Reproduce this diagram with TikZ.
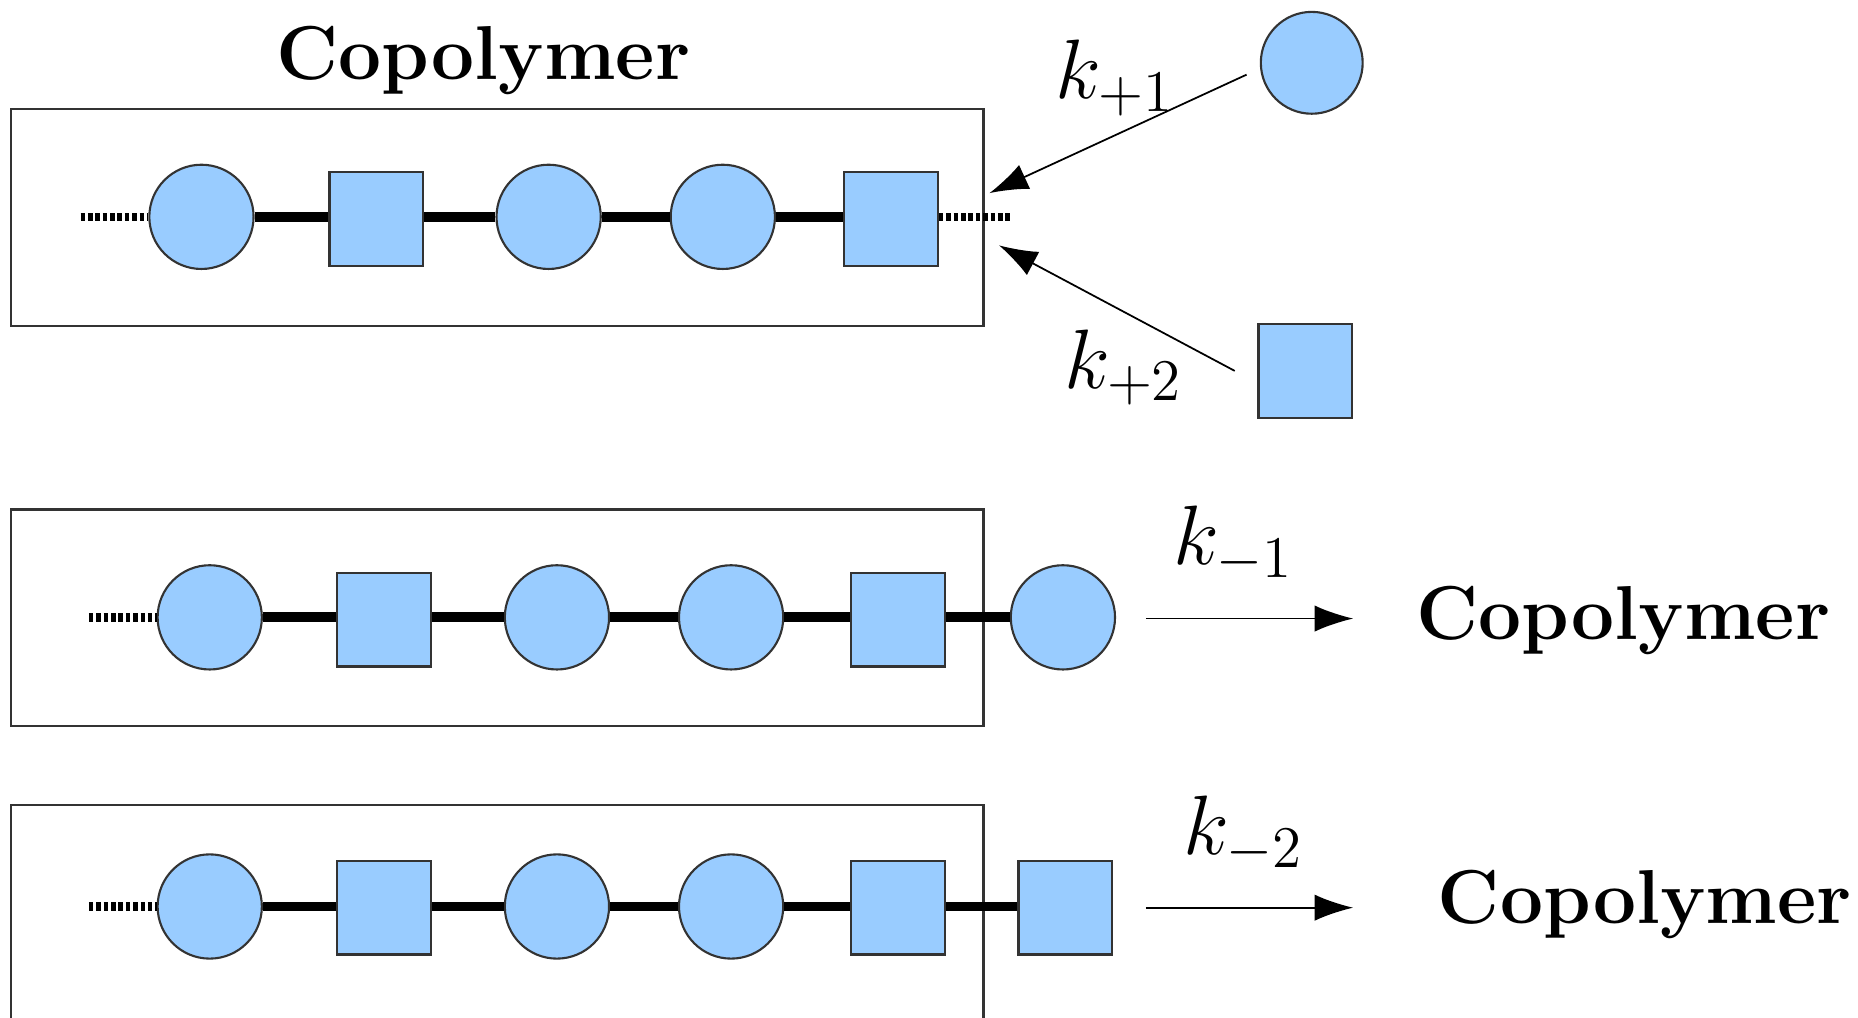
\RequirePackage{fix-cm}
\documentclass[tikz,border=0pt]{standalone}
\usepackage{fontspec}
\usetikzlibrary{arrows.meta}
\definecolor{mono}{HTML}{99CCFF}
\definecolor{edge}{HTML}{333333}
\tikzset{
  mcirc/.style={circle, draw=edge, fill=mono, line width=0.6pt, minimum size=1.043cm, inner sep=0pt},
  msq/.style={rectangle, draw=edge, fill=mono, line width=0.6pt, minimum size=0.936cm, inner sep=0pt},
  bond/.style={line width=2.8pt, black},
  dotbond/.style={line width=2.4pt, black, dash pattern=on 1.3pt off 0.8pt},
  frame/.style={draw=black!80, line width=0.6pt},
  rate/.style={line width=0.5pt, -{Latex[length=11pt,width=7.5pt]}},
  bigtxt/.style={font=\fontsize{21.75}{26}\selectfont\bfseries, inner sep=0pt},
  ktxt/.style={font=\fontsize{24}{29}\selectfont, inner sep=0pt}
}
\begin{document}
\begin{tikzpicture}[x=0.01185cm, y=-0.01185cm]
\useasboundingbox (0,0) rectangle (1568,859);

% title
\node[bigtxt, anchor=base] (title) at (408,67) {Copolymer};

% ---------- row 1 ----------
\draw[frame] (9,92) rectangle (830,275);
\node[mcirc] (a1) at (170,183) {};
\node[msq]   (a2) at (317.5,185) {};
\node[mcirc] (a3) at (463,183) {};
\node[mcirc] (a4) at (610,183) {};
\node[msq]   (a5) at (752,185) {};
\coordinate (a0) at (68,183);
\coordinate (a6) at (853,183);
\draw[dotbond] (a0) -- (a1.west);
\draw[bond] (a1.east) -- (a2.west |- a1.east);
\draw[bond] (a2.east |- a1.east) -- (a3.west);
\draw[bond] (a3.east) -- (a4.west);
\draw[bond] (a4.east) -- (a5.west |- a4.east);
\draw[dotbond] (a5.east |- a4.east) -- (a6);

% free monomers
\node[mcirc, minimum size=1.019cm] (fc) at (1107,53) {};
\node[msq] (fs) at (1101.5,313) {};
\coordinate (k1s) at (1052,63);
\coordinate (k1e) at (835,163);
\coordinate (k2s) at (1042,313);
\coordinate (k2e) at (843,207);
\draw[rate] (k1s) -- (k1e);
\draw[rate] (k2s) -- (k2e);
\node[ktxt] (kp1) at (941,66) {$k_{+1}$};
\node[ktxt] (kp2) at (948,310) {$k_{+2}$};

% ---------- row 2 ----------
\draw[frame] (9,430) rectangle (830,613);
\node[mcirc] (b1) at (177,521) {};
\node[msq]   (b2) at (324,523) {};
\node[mcirc] (b3) at (470,521) {};
\node[mcirc] (b4) at (617,521) {};
\node[msq]   (b5) at (758,523) {};
\node[mcirc] (b6) at (897,521) {};
\coordinate (b0) at (75,521);
\draw[dotbond] (b0) -- (b1.west);
\draw[bond] (b1.east) -- (b2.west |- b1.east);
\draw[bond] (b2.east |- b1.east) -- (b3.west);
\draw[bond] (b3.east) -- (b4.west);
\draw[bond] (b4.east) -- (b5.west |- b4.east);
\draw[bond] (b5.east |- b4.east) -- (b6.west);
\coordinate (m1s) at (967,522);
\node[bigtxt, anchor=base] (c2) at (1370,540) {Copolymer};
\coordinate (m1e) at (1142,522);
\draw[rate] (m1s) -- (m1e);
\node[ktxt] (km1) at (1041,459) {$k_{-1}$};

% ---------- row 3 ----------
\draw[frame] (9,862) -- (9,679) -- (830,679) -- (830,862);
\node[mcirc] (d1) at (177,765) {};
\node[msq]   (d2) at (324,766) {};
\node[mcirc] (d3) at (470,765) {};
\node[mcirc] (d4) at (617,765) {};
\node[msq]   (d5) at (758,766) {};
\node[msq]   (d6) at (899,766) {};
\coordinate (d0) at (75,765);
\draw[dotbond] (d0) -- (d1.west);
\draw[bond] (d1.east) -- (d2.west |- d1.east);
\draw[bond] (d2.east |- d1.east) -- (d3.west);
\draw[bond] (d3.east) -- (d4.west);
\draw[bond] (d4.east) -- (d5.west |- d4.east);
\draw[bond] (d5.east |- d4.east) -- (d6.west |- d4.east);
\coordinate (m2s) at (967,766);
\coordinate (m2e) at (1142,766);
\draw[rate] (m2s) -- (m2e);
\node[ktxt] (km2) at (1049,704) {$k_{-2}$};
\node[bigtxt, anchor=base] (c3) at (1388,779) {Copolymer};
\end{tikzpicture}
\end{document}
